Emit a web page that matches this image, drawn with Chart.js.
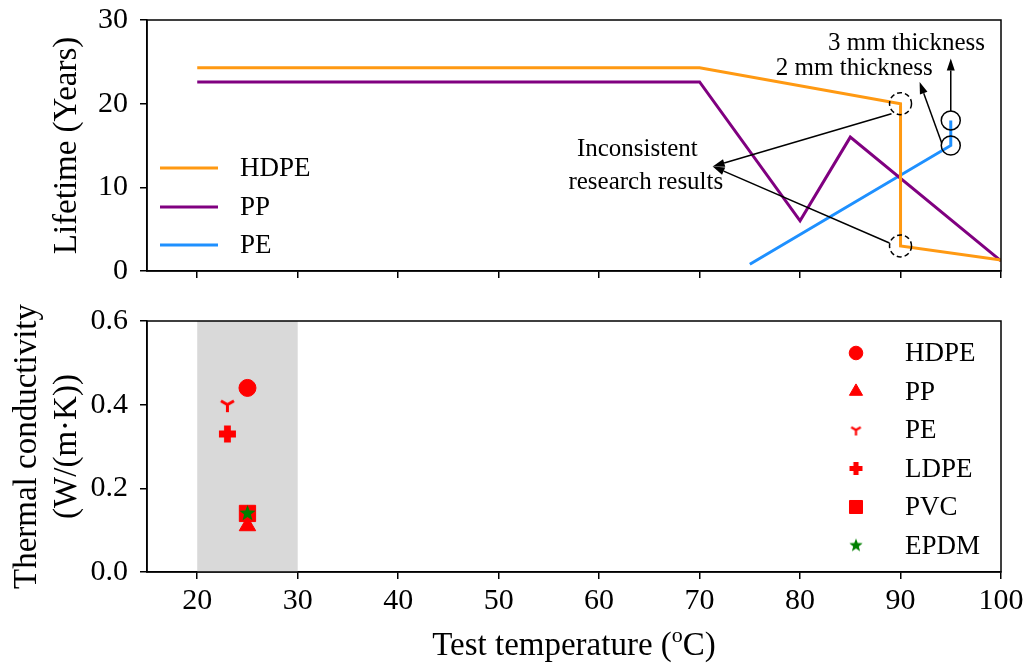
<!DOCTYPE html>
<html>
<head>
<meta charset="utf-8">
<script src="https://cdn.jsdelivr.net/npm/chart.js@4.4.0/dist/chart.umd.min.js"></script>
<style>
  body { margin: 0; background: #fff; width: 1030px; height: 664px; overflow: hidden; position: relative; }
  canvas { position: absolute; left: 0; }
  #lifeChart { top: 0; }
  #condChart { top: 300px; }
</style>
</head>
<body>
<canvas id="lifeChart" width="1030" height="300"></canvas>
<canvas id="condChart" width="1030" height="364"></canvas>
<script>
// data
const xTicks = [20, 30, 40, 50, 60, 70, 80, 90, 100];
const lifeTicks = [0, 10, 20, 30];
const condTicks = [0, 0.2, 0.4, 0.6];

const hdpeTemp = [20, 70, 90, 90, 100];
const hdpeLife = [24.3, 24.3, 20, 3, 1.3];
const ppTemp = [20, 70, 80, 85, 100];
const ppLife = [22.6, 22.6, 6, 16, 1.2];
const peTemp = [75, 95, 95];
const peLife = [0.8, 15, 18];

const materials = ['HDPE', 'PP', 'PE', 'LDPE', 'PVC', 'EPDM'];
const matTemp = [25, 25, 23, 23, 25, 25];
const matCond = [0.44, 0.11, 0.40, 0.33, 0.14, 0.14];

const serif = "'Liberation Serif', 'Times New Roman', serif";
Chart.defaults.font.family = serif;
Chart.defaults.color = '#000';

function pairs(xs, ys) {
  return xs.map((x, i) => ({ x: x, y: ys[i] }));
}

// marker images for styles Chart.js does not have
function markerImage(kind, size, color) {
  const c = document.createElement('canvas');
  c.width = size + 4; c.height = size + 4;
  const ctx = c.getContext('2d');
  const m = c.width / 2, r = size / 2;
  ctx.fillStyle = color; ctx.strokeStyle = color;
  if (kind === 'tri') {
    ctx.lineWidth = size * 0.2;
    ctx.beginPath();
    ctx.moveTo(m, m); ctx.lineTo(m, m + r);
    ctx.moveTo(m, m); ctx.lineTo(m + r * 0.866, m - r * 0.5);
    ctx.moveTo(m, m); ctx.lineTo(m - r * 0.866, m - r * 0.5);
    ctx.stroke();
  } else if (kind === 'plus') {
    const w = r * 0.4;
    ctx.beginPath();
    ctx.moveTo(m - w, m - r); ctx.lineTo(m + w, m - r); ctx.lineTo(m + w, m - w);
    ctx.lineTo(m + r, m - w); ctx.lineTo(m + r, m + w); ctx.lineTo(m + w, m + w);
    ctx.lineTo(m + w, m + r); ctx.lineTo(m - w, m + r); ctx.lineTo(m - w, m + w);
    ctx.lineTo(m - r, m + w); ctx.lineTo(m - r, m - w); ctx.lineTo(m - w, m - w);
    ctx.closePath();
    ctx.fill();
  } else if (kind === 'star') {
    ctx.beginPath();
    for (let i = 0; i < 10; i++) {
      const a = -Math.PI / 2 + i * Math.PI / 5;
      const rr = i % 2 === 0 ? r : r * 0.42;
      ctx.lineTo(m + rr * Math.cos(a), m + rr * Math.sin(a));
    }
    ctx.closePath();
    ctx.fill();
  }
  return c;
}

const frame = {
  id: 'frame',
  afterDraw(chart) {
    const a = chart.chartArea, ctx = chart.ctx;
    ctx.save();
    ctx.strokeStyle = '#000';
    ctx.lineWidth = 1.5;
    ctx.strokeRect(a.left, a.top, a.right - a.left, a.bottom - a.top);
    ctx.restore();
  }
};

function xScale(showLabels, h) {
  return {
    type: 'linear', min: 15, max: 100,
    afterBuildTicks: s => { s.ticks = xTicks.map(v => ({ value: v })); },
    afterFit: s => { s.height = h; s.paddingLeft = 0; s.paddingRight = 0; },
    grid: { drawOnChartArea: false, drawTicks: true, tickLength: 7, color: '#000', lineWidth: 1.5 },
    border: { display: true, color: '#000', width: 1.5 },
    ticks: { display: showLabels, autoSkip: false, maxRotation: 0, font: { size: 30 }, padding: 4, color: '#000' }
  };
}

function yScale(min, max, ticks, fmt, title, titlePad) {
  return {
    type: 'linear', min: min, max: max,
    afterBuildTicks: s => { s.ticks = ticks.map(v => ({ value: v })); },
    afterFit: s => { s.width = 147; s.paddingTop = 0; s.paddingBottom = 0; },
    grid: { drawOnChartArea: false, drawTicks: true, tickLength: 7, color: '#000', lineWidth: 1.5 },
    border: { display: true, color: '#000', width: 1.5 },
    ticks: { autoSkip: false, font: { size: 30 }, padding: 12, color: '#000', callback: fmt },
    title: { display: true, text: title, font: { size: 33 }, color: '#000', padding: { top: titlePad, bottom: 0 } }
  };
}

// top panel: lifetime
const lifeLegend = {
  id: 'lifeLegend',
  afterDraw(chart) {
    const ctx = chart.ctx;
    const ys = [168, 207, 245];
    ctx.save();
    ctx.font = '27px ' + serif;
    ctx.textBaseline = 'middle';
    ctx.fillStyle = '#000';
    chart.data.datasets.forEach((ds, i) => {
      ctx.strokeStyle = ds.borderColor;
      ctx.lineWidth = 3;
      ctx.beginPath();
      ctx.moveTo(160, ys[i]); ctx.lineTo(218, ys[i]);
      ctx.stroke();
      ctx.fillText(ds.label, 240, ys[i] + 1);
    });
    ctx.restore();
  }
};

const dashedCircles = [[90, 20], [90, 3]];
const solidCircles = [[95, 15], [95, 18]];
const arrows = [
  [[89.1, 18.8], [71.3, 12.5]],
  [[88.9, 3.35], [71.3, 12.5]],
  [[94.1, 15.3], [91.9, 22.6]],
  [[95, 19.1], [95, 25.4]]
];
const notes = [
  ['3 mm thickness', 90.6, 27.2],
  ['2 mm thickness', 85.4, 24.25],
  ['Inconsistent', 63.8, 14.5],
  ['research results', 64.65, 10.6]
];

const lifeNotes = {
  id: 'lifeNotes',
  afterDatasetsDraw(chart) {
    const ctx = chart.ctx, sx = chart.scales.x, sy = chart.scales.y;
    const px = v => sx.getPixelForValue(v), py = v => sy.getPixelForValue(v);
    ctx.save();
    ctx.strokeStyle = '#000';
    ctx.fillStyle = '#000';
    ctx.lineWidth = 1.5;
    ctx.setLineDash([5, 3]);
    dashedCircles.forEach(p => {
      ctx.beginPath(); ctx.arc(px(p[0]), py(p[1]), 11, 0, Math.PI * 2); ctx.stroke();
    });
    ctx.setLineDash([]);
    solidCircles.forEach(p => {
      ctx.beginPath(); ctx.arc(px(p[0]), py(p[1]), 9.5, 0, Math.PI * 2); ctx.stroke();
    });
    arrows.forEach(a => {
      const x0 = px(a[0][0]), y0 = py(a[0][1]), x1 = px(a[1][0]), y1 = py(a[1][1]);
      const ang = Math.atan2(y1 - y0, x1 - x0), hl = 12, hw = 4;
      const bx = x1 - hl * Math.cos(ang), by = y1 - hl * Math.sin(ang);
      ctx.beginPath(); ctx.moveTo(x0, y0); ctx.lineTo(bx, by); ctx.stroke();
      ctx.beginPath();
      ctx.moveTo(x1, y1);
      ctx.lineTo(bx + hw * Math.sin(ang), by - hw * Math.cos(ang));
      ctx.lineTo(bx - hw * Math.sin(ang), by + hw * Math.cos(ang));
      ctx.closePath(); ctx.fill();
    });
    ctx.font = '25px ' + serif;
    ctx.textAlign = 'center';
    ctx.textBaseline = 'middle';
    notes.forEach(n => ctx.fillText(n[0], px(n[1]), py(n[2])));
    ctx.restore();
  }
};

new Chart(document.getElementById('lifeChart'), {
  type: 'line',
  data: {
    datasets: [
      { label: 'HDPE', data: pairs(hdpeTemp, hdpeLife), borderColor: '#ff9912', borderWidth: 3 },
      { label: 'PP', data: pairs(ppTemp, ppLife), borderColor: '#800080', borderWidth: 3 },
      { label: 'PE', data: pairs(peTemp, peLife), borderColor: '#1e90ff', borderWidth: 3 }
    ]
  },
  options: {
    responsive: false,
    animation: false,
    elements: { point: { radius: 0 }, line: { tension: 0, borderJoinStyle: 'miter' } },
    layout: { padding: { top: 20, right: 29, left: 0, bottom: 0 } },
    plugins: { legend: { display: false }, tooltip: { enabled: false } },
    scales: {
      x: xScale(false, 29),
      y: yScale(0, 30, lifeTicks, v => v.toString(), 'Lifetime (Years)', 48)
    }
  },
  plugins: [lifeNotes, lifeLegend, frame]
});

// bottom panel: thermal conductivity
const pointStyles = ['circle', 'triangle', markerImage('tri', 15, 'red'), markerImage('plus', 17, 'red'), 'rect', markerImage('star', 17, 'green')];
const legendStyles = ['circle', 'triangle', markerImage('tri', 11, 'red'), markerImage('plus', 13, 'red'), 'rect', markerImage('star', 14, 'green')];
const pointColors = ['red', 'red', 'red', 'red', 'red', 'green'];
const pointRadii = [8.5, 9.5, 8, 8, 11.5, 8];

const band = {
  id: 'band',
  beforeDatasetsDraw(chart) {
    const a = chart.chartArea, sx = chart.scales.x, ctx = chart.ctx;
    const x0 = sx.getPixelForValue(20), x1 = sx.getPixelForValue(30);
    ctx.save();
    ctx.fillStyle = '#d9d9d9';
    ctx.fillRect(x0, a.top, x1 - x0, a.bottom - a.top);
    ctx.restore();
  }
};

const condLegend = {
  id: 'condLegend',
  afterDraw(chart) {
    const ctx = chart.ctx;
    ctx.save();
    ctx.font = '27px ' + serif;
    ctx.textBaseline = 'middle';
    chart.data.datasets.forEach((ds, i) => {
      const y = 53 + i * 38.5;
      ctx.fillStyle = pointColors[i];
      ctx.strokeStyle = pointColors[i];
      Chart.helpers.drawPoint(ctx, { pointStyle: legendStyles[i], radius: pointRadii[i] * 0.8, borderWidth: 1, rotation: 0 }, 856, y);
      ctx.fillStyle = '#000';
      ctx.fillText(ds.label, 905, y + 1);
    });
    ctx.restore();
  }
};

const xTitle = {
  id: 'xTitle',
  afterDraw(chart) {
    const ctx = chart.ctx, a = chart.chartArea;
    const cx = (a.left + a.right) / 2, y = 346;
    const big = '33px ' + serif, small = '22px ' + serif;
    const p1 = 'Test temperature (', sup = 'o', p2 = 'C)';
    ctx.save();
    ctx.fillStyle = '#000';
    ctx.textBaseline = 'middle';
    ctx.font = big;
    const w1 = ctx.measureText(p1).width, w3 = ctx.measureText(p2).width;
    ctx.font = small;
    const w2 = ctx.measureText(sup).width;
    let x = cx - (w1 + w2 + w3) / 2;
    ctx.font = big; ctx.fillText(p1, x, y); x += w1;
    ctx.font = small; ctx.fillText(sup, x, y - 10); x += w2;
    ctx.font = big; ctx.fillText(p2, x, y);
    ctx.restore();
  }
};

new Chart(document.getElementById('condChart'), {
  type: 'scatter',
  data: {
    // later materials sit on top, as in the figure
    datasets: materials.map((m, i) => ({
      label: m,
      data: [{ x: matTemp[i], y: matCond[i] }],
      order: materials.length - i,
      pointStyle: pointStyles[i],
      pointRadius: pointRadii[i],
      backgroundColor: pointColors[i],
      borderColor: pointColors[i],
      borderWidth: 1
    }))
  },
  options: {
    responsive: false,
    animation: false,
    layout: { padding: { top: 21, right: 29, left: 0, bottom: 0 } },
    plugins: { legend: { display: false }, tooltip: { enabled: false } },
    scales: {
      x: xScale(true, 92),
      y: yScale(0, 0.6, condTicks, v => v.toFixed(1), ['Thermal conductivity', '(W/(m\u00b7K))'], 8)
    }
  },
  plugins: [band, condLegend, xTitle, frame]
});
</script>
</body>
</html>
